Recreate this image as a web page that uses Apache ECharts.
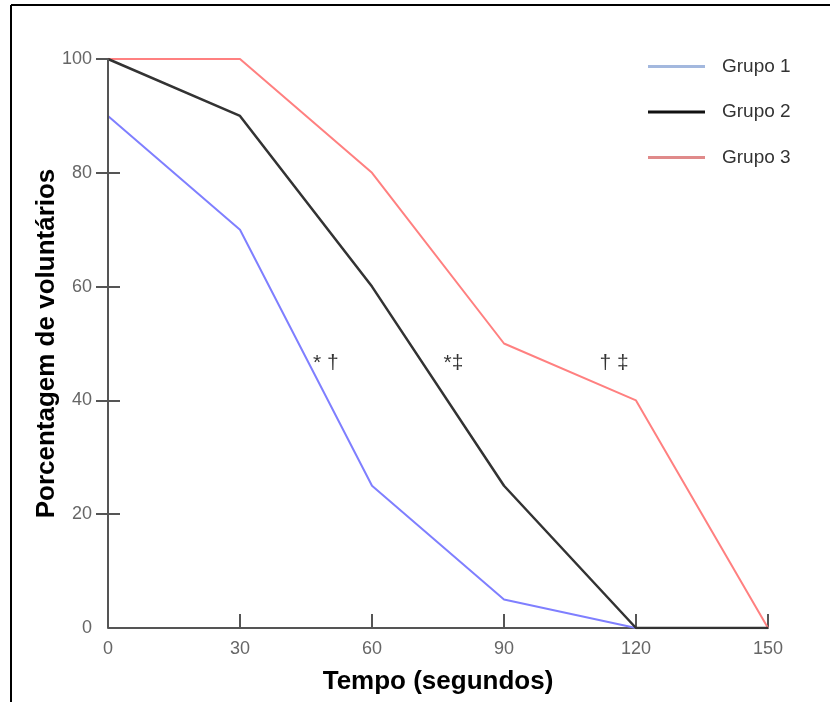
<!DOCTYPE html>
<html>
<head>
<meta charset="utf-8">
<script src="https://cdn.jsdelivr.net/npm/echarts@6/dist/echarts.min.js"></script>
<style>
  html, body { margin: 0; padding: 0; background: #fff; }
  #container { width: 830px; height: 702px; }
</style>
</head>
<body>
<div id="container"></div>
<script>
let dom = document.getElementById("container");
let myChart = echarts.init(dom);

// dados
let tempos = [0, 30, 60, 90, 120, 150];
let grupo1 = [90, 70, 25, 5, 0];
let grupo2 = [100, 90, 60, 25, 0, 0];
let grupo3 = [100, 100, 80, 50, 40, 0];
let yTicks = [20, 40, 60, 80, 100];
let xTicks = [30, 60, 90, 120, 150];
// marcas de significância: [tempo, porcentagem, texto]
let notas = [[49.5, 46.5, '* †'], [78.5, 46.5, '*‡'], [115, 46.5, '† ‡']];

let fonte = '"Liberation Sans", Arial, sans-serif';
let corEixo = '#555';

function pares(vals) {
    return vals.map(function (v, i) { return [tempos[i], v]; });
}

let option = {
    animation: false,
    backgroundColor: '#fff',
    textStyle: { fontFamily: fonte },
    grid: { left: 108, top: 59, right: 62, bottom: 74 },
    legend: {
        orient: 'vertical',
        left: 648,
        top: 57,
        padding: 0,
        itemWidth: 57,
        itemHeight: 3,
        itemGap: 26.5,
        icon: 'rect',
        textStyle: { fontSize: 19, color: '#333', fontFamily: fonte, padding: [0, 0, 0, 12] },
        data: [
            { name: 'Grupo 1', itemStyle: { color: '#a3b8de' } },
            { name: 'Grupo 2', itemStyle: { color: '#111' } },
            { name: 'Grupo 3', itemStyle: { color: '#e08a8a' } }
        ]
    },
    xAxis: {
        type: 'value',
        min: 0,
        max: 150,
        interval: 30,
        name: 'Tempo (segundos)',
        nameLocation: 'middle',
        nameGap: 41,
        nameTextStyle: { fontSize: 26, fontWeight: 'bold', color: '#000', fontFamily: fonte },
        splitLine: { show: false },
        axisLine: { lineStyle: { color: corEixo, width: 2 } },
        axisTick: { inside: true, length: 14, customValues: xTicks, lineStyle: { color: corEixo, width: 2 } },
        axisLabel: { fontSize: 18, color: '#666', margin: 12, fontFamily: fonte }
    },
    yAxis: {
        // eixo deslocado 12px para dentro: os traços de 24px cruzam a linha do eixo
        type: 'value',
        offset: -12,
        min: 0,
        max: 100,
        interval: 20,
        name: 'Porcentagem de voluntários',
        nameLocation: 'middle',
        nameGap: 60,
        nameMoveOverlap: false,
        nameTextStyle: { fontSize: 26, fontWeight: 'bold', color: '#000', fontFamily: fonte },
        splitLine: { show: false },
        axisLine: { show: false },
        axisTick: { show: true, length: 24, customValues: yTicks, lineStyle: { color: corEixo, width: 2 } },
        axisLabel: { fontSize: 18, color: '#666', margin: 28, fontFamily: fonte }
    },
    series: [{
        name: 'Grupo 3',
        type: 'line',
        data: pares(grupo3),
        symbol: 'none',
        lineStyle: { color: '#ff8080', width: 2 },
        itemStyle: { color: '#e08a8a' },
        z: 2
    }, {
        name: 'Grupo 1',
        type: 'line',
        data: pares(grupo1),
        symbol: 'none',
        lineStyle: { color: '#7f7fff', width: 2 },
        itemStyle: { color: '#a3b8de' },
        z: 3
    }, {
        name: 'Grupo 2',
        type: 'line',
        data: pares(grupo2),
        symbol: 'none',
        lineStyle: { color: '#333', width: 2.5 },
        itemStyle: { color: '#111' },
        // linha do eixo Y em x = 0
        markLine: {
            silent: true,
            symbol: 'none',
            label: { show: false },
            lineStyle: { color: corEixo, width: 2, type: 'solid' },
            data: [{ xAxis: tempos[0] }]
        },
        z: 4
    }, {
        name: 'notas',
        type: 'scatter',
        silent: true,
        symbolSize: 1,
        itemStyle: { color: 'rgba(0,0,0,0)' },
        data: notas.map(function (n) { return { value: [n[0], n[1]], label: { formatter: n[2] } }; }),
        label: { show: true, position: 'inside', fontSize: 21, color: '#000', fontFamily: fonte },
        z: 5
    }],
    graphic: [
        { type: 'line', shape: { x1: 11, y1: 5, x2: 830, y2: 5 }, style: { stroke: '#000', lineWidth: 2 } },
        { type: 'line', shape: { x1: 11, y1: 5, x2: 11, y2: 702 }, style: { stroke: '#000', lineWidth: 2 } }
    ]
};

myChart.setOption(option);
</script>
</body>
</html>
